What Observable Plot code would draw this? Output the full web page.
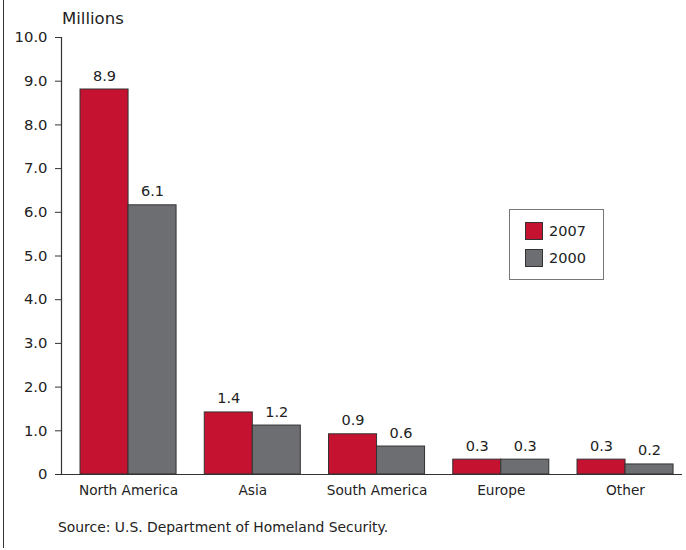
<!DOCTYPE html>
<html>
<head>
<meta charset="utf-8">
<script src="https://cdn.jsdelivr.net/npm/d3@7"></script>
<script src="https://cdn.jsdelivr.net/npm/@observablehq/plot@0.6"></script>
<style>
  html, body { margin: 0; padding: 0; background: #fff; }
  #wrap { position: relative; width: 686px; height: 550px; font-family: "DejaVu Sans", sans-serif; color: #222; }
  #frame { position: absolute; left: 3px; top: 0; width: 0; height: 548px; border-left: 1.5px solid #333; }
  #units { position: absolute; left: 62px; top: 9px; font-size: 16.5px; }
  #source { position: absolute; left: 58px; top: 519px; font-size: 13.9px; }
  #legend { position: absolute; left: 509px; top: 209px; width: 93px; height: 69px; border: 1.5px solid #777; }
  .item { position: absolute; left: 15px; font-size: 14.5px; line-height: 18px; }
  .sw { display: inline-block; width: 16px; height: 16px; border: 1px solid #333; vertical-align: top; margin-right: 6px; }
</style>
</head>
<body>
<div id="wrap">
  <div id="chart"></div>
  <div id="frame"></div>
  <div id="units">Millions</div>
  <div id="source">Source: U.S. Department of Homeland Security.</div>
  <div id="legend"></div>
</div>
<script>
const regions = ["North America", "Asia", "South America", "Europe", "Other"];
const values2007 = [8.81, 1.42, 0.92, 0.34, 0.34];
const values2000 = [6.16, 1.12, 0.64, 0.34, 0.23];
const labels2007 = ["8.9", "1.4", "0.9", "0.3", "0.3"];
const labels2000 = ["6.1", "1.2", "0.6", "0.3", "0.2"];
const years = ["2007", "2000"];
const colors = ["#c41230", "#6d6e71"];
const yTicks = [0, 1, 2, 3, 4, 5, 6, 7, 8, 9, 10];

const d2007 = regions.map((r, i) => ({region: r, value: values2007[i], label: labels2007[i]}));
const d2000 = regions.map((r, i) => ({region: r, value: values2000[i], label: labels2000[i]}));

const plot = Plot.plot({
  width: 686,
  height: 550,
  marginTop: 37,
  marginBottom: 76,
  marginLeft: 61,
  marginRight: 4,
  style: {fontFamily: "DejaVu Sans, sans-serif", color: "#222", background: "transparent"},
  x: {domain: regions, paddingInner: 0.227, paddingOuter: 0.1125, align: 0.68, round: false, label: null},
  y: {domain: [0, 10], label: null},
  marks: [
    Plot.axisY({ticks: yTicks, tickFormat: d => d === 0 ? "0" : d.toFixed(1), tickSize: 6, tickPadding: 8, fontSize: 14.8, stroke: "#333", label: null}),
    Plot.axisX({tickSize: 0, tickPadding: 11, fontSize: 13.7, label: null}),
    Plot.frame({anchor: "left", stroke: "#333", strokeWidth: 1.2}),
    Plot.barY(d2007, {x: "region", y: "value", fill: colors[0], stroke: "#333", strokeWidth: 1, insetRight: 48}),
    Plot.barY(d2000, {x: "region", y: "value", fill: colors[1], stroke: "#333", strokeWidth: 1, insetLeft: 48}),
    Plot.ruleY([0], {stroke: "#333", strokeWidth: 1.2}),
    Plot.text(d2007, {x: "region", y: "value", text: "label", dx: -24, dy: -9, lineAnchor: "bottom", fontSize: 14.5, fill: "#222"}),
    Plot.text(d2000, {x: "region", y: "value", text: "label", dx: 24, dy: -9, lineAnchor: "bottom", fontSize: 14.5, fill: "#222"})
  ]
});
document.getElementById("chart").appendChild(plot);

const legend = document.getElementById("legend");
years.forEach((y, i) => {
  const it = document.createElement("div");
  it.className = "item";
  it.style.top = (12 + i * 27) + "px";
  it.innerHTML = `<span class="sw" style="background:${colors[i]}"></span>${y}`;
  legend.appendChild(it);
});
</script>
</body>
</html>
